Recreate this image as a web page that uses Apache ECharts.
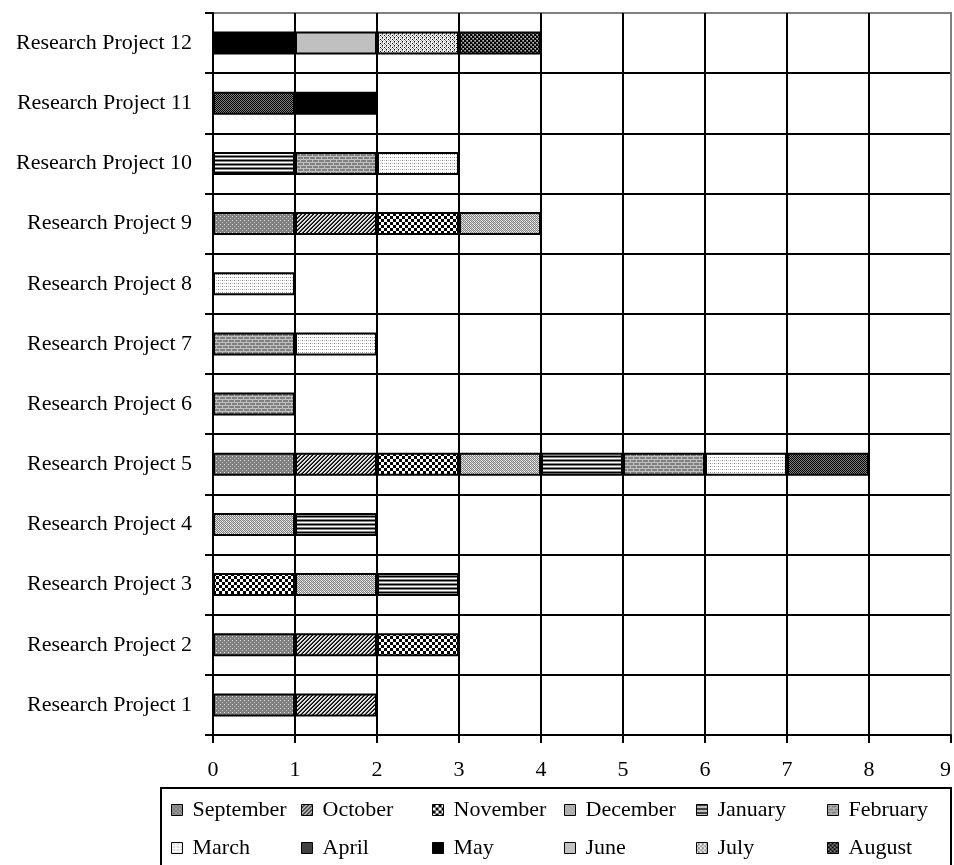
<!DOCTYPE html>
<html>
<head>
<meta charset="utf-8">
<script src="https://cdn.jsdelivr.net/npm/echarts@6/dist/echarts.min.js"></script>
<style>
  html, body { margin: 0; padding: 0; background: #fff; }
  #chart { width: 954px; height: 865px; }
</style>
</head>
<body>
<div id="chart"></div>
<script>
// Research projects on the category axis (bottom to top)
const projects = [
  'Research Project 1', 'Research Project 2', 'Research Project 3', 'Research Project 4',
  'Research Project 5', 'Research Project 6', 'Research Project 7', 'Research Project 8',
  'Research Project 9', 'Research Project 10', 'Research Project 11', 'Research Project 12'
];

const months = ['September', 'October', 'November', 'December', 'January', 'February',
                'March', 'April', 'May', 'June', 'July', 'August'];

// Months of activity per project (one entry per project, Project 1 first)
const september = [1, 1, null, null, 1, null, null, null, 1, null, null, null];
const october   = [1, 1, null, null, 1, null, null, null, 1, null, null, null];
const november  = [null, 1, 1, null, 1, null, null, null, 1, null, null, null];
const december  = [null, null, 1, 1, 1, null, null, null, 1, null, null, null];
const january   = [null, null, 1, 1, 1, null, null, null, null, 1, null, null];
const february  = [null, null, null, null, 1, 1, 1, null, null, 1, null, null];
const march     = [null, null, null, null, 1, null, 1, 1, null, 1, null, null];
const april     = [null, null, null, null, 1, null, null, null, null, null, 1, null];
const may       = [null, null, null, null, null, null, null, null, null, null, 1, 1];
const june      = [null, null, null, null, null, null, null, null, null, null, null, 1];
const july      = [null, null, null, null, null, null, null, null, null, null, null, 1];
const august    = [null, null, null, null, null, null, null, null, null, null, null, 1];

const monthValues = [september, october, november, december, january, february,
                     march, april, may, june, july, august];

const xTicks = [0, 1, 2, 3, 4, 5, 6, 7, 8, 9];

// ---- monochrome fill patterns ----
const palette = { k: '#000000', d: '#404040', g: '#808080', s: '#c0c0c0', l: '#e0e0e0', w: '#ffffff' };
function makePattern(rows) {
  const h = rows.length, w = rows[0].length;
  const c = document.createElement('canvas');
  c.width = w; c.height = h;
  const ctx = c.getContext('2d');
  for (let y = 0; y < h; y++) {
    for (let x = 0; x < w; x++) {
      ctx.fillStyle = palette[rows[y][x]];
      ctx.fillRect(x, y, 1, 1);
    }
  }
  return { image: c, repeat: 'repeat' };
}

const fills = [
  makePattern(['lggg', 'gggg', 'ggsg', 'gggg']),                             // dotted grey
  makePattern(['lldk', 'ldkl', 'dkll', 'klld']),                             // diagonal hatch
  makePattern(['kkkwww', 'kkkwww', 'kkkwww', 'wwwkkk', 'wwwkkk', 'wwwkkk']), // checker
  makePattern(['glgs', 'lgwg', 'gsgl', 'wglg']),                             // light diagonal checker
  makePattern(['k', 'g', 'w', 'g']),                                         // horizontal lines
  makePattern(['ssssss', 'gggsgg', 'gggsgg', 'ssssss', 'sggggg', 'sggggg']), // brick
  makePattern(['wwww', 'swgw', 'wwww']),                                     // light dots
  makePattern(['kg', 'gk']),                                                 // dark checker
  '#000000',                                                                 // solid black
  '#c0c0c0',                                                                 // solid silver
  makePattern(['wgws', 'swkw', 'wsgw', 'kwsw']),                             // stipple
  makePattern(['kkgs', 'kkdg', 'gskk', 'dgkk'])                              // dark stipple
];

const FONT = "'Liberation Serif', 'Times New Roman', serif";

const series = months.map((m, i) => ({
  name: m,
  type: 'bar',
  stack: 'total',
  barWidth: 23,
  data: monthValues[i],
  itemStyle: { color: fills[i], borderColor: '#000', borderWidth: 2 },
  emphasis: { disabled: true }
}));

// legend: two rows of six, fixed columns
const colX = [171, 301, 432, 564, 696, 827];
const rowY = [797, 835];
const legends = months.map((m, i) => ({
  data: [{ name: m, icon: 'rect' }],
  left: colX[i % 6],
  top: rowY[Math.floor(i / 6)],
  padding: 0,
  icon: 'rect',
  itemWidth: 11,
  itemHeight: 11,
  selectedMode: false,
  itemStyle: { borderColor: '#000', borderWidth: 1 },
  textStyle: { fontFamily: FONT, fontSize: 22, color: '#000', lineHeight: 26, padding: [0, 0, 0, 5] }
}));

const xSplitColors = xTicks.map((t, i) => (i === xTicks.length - 1 ? '#808080' : '#000'));
const ySplitColors = projects.map(() => '#000').concat(['#808080']);

const chart = echarts.init(document.getElementById('chart'), null, { renderer: 'canvas' });
chart.setOption({
  animation: false,
  backgroundColor: '#fff',
  grid: {
    left: 213, right: 3, top: 13, bottom: 130,
    outerBoundsMode: 'none',
    containLabel: false,
    show: true, borderColor: '#808080', borderWidth: 2, backgroundColor: 'transparent'
  },
  xAxis: {
    type: 'value',
    min: xTicks[0], max: xTicks[xTicks.length - 1], interval: 1,
    axisLine: { show: true, lineStyle: { color: '#000', width: 2 } },
    axisTick: { show: true, length: 8, lineStyle: { color: '#000', width: 2 } },
    splitLine: { show: true, lineStyle: { color: xSplitColors, width: 2 } },
    axisLabel: { fontFamily: FONT, fontSize: 22, color: '#000', margin: 24, alignMaxLabel: 'right' }
  },
  yAxis: {
    type: 'category',
    data: projects,
    axisLine: { show: true, lineStyle: { color: '#000', width: 2 } },
    axisTick: { show: true, length: 8, lineStyle: { color: '#000', width: 2 } },
    splitLine: { show: true, lineStyle: { color: ySplitColors, width: 2 } },
    axisLabel: { fontFamily: FONT, fontSize: 22, color: '#000', margin: 21 }
  },
  legend: legends,
  graphic: [{
    type: 'rect',
    shape: { x: 161, y: 788, width: 790, height: 120 },
    style: { fill: 'none', stroke: '#000', lineWidth: 2 },
    z: 10
  }],
  series: series
});
</script>
</body>
</html>
